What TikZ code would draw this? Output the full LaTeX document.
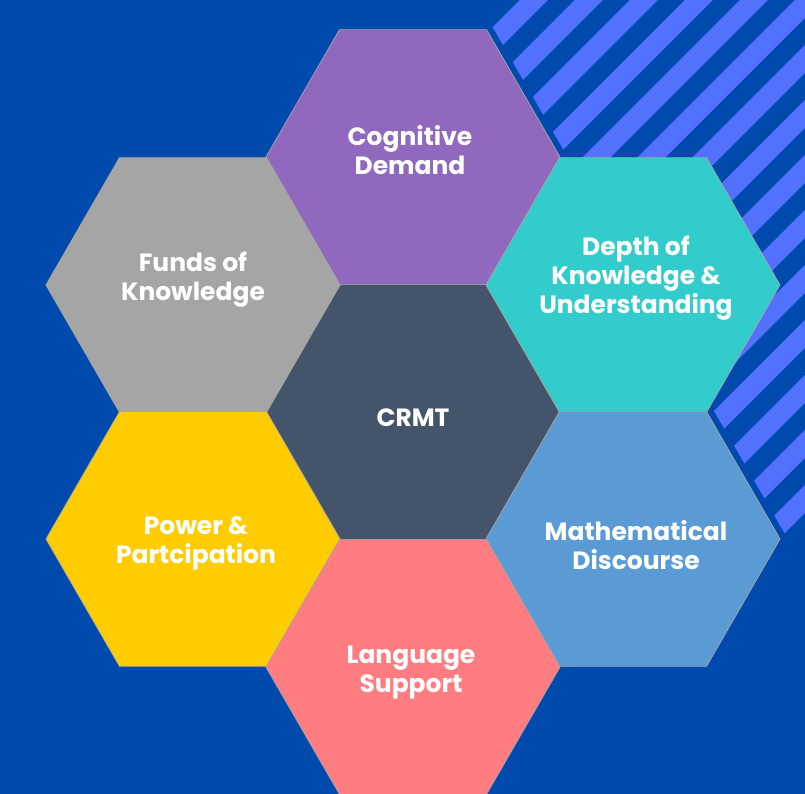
\documentclass[tikz,border=0pt]{standalone}
\usepackage{fontspec}
\setmainfont{Poppins}
\usetikzlibrary{shapes.geometric}
\definecolor{bgblue}{HTML}{004AAD}
\definecolor{stripeblue}{HTML}{5271FF}
\definecolor{cogpurple}{HTML}{9068BE}
\definecolor{fundgray}{HTML}{A5A5A5}
\definecolor{depthteal}{HTML}{33CCCC}
\definecolor{crmtslate}{HTML}{44546A}
\definecolor{poweryellow}{HTML}{FFCC00}
\definecolor{langpink}{HTML}{FF7C80}
\definecolor{mathblue}{HTML}{5B9BD5}
\begin{document}
\begin{tikzpicture}[x=0.01cm,y=-0.01cm,
  hexcell/.style={regular polygon,regular polygon sides=6,minimum size=2.94cm,
    inner sep=0pt,outer sep=0pt,draw=black!35,line width=.2pt},
  hextext/.style={text=white,align=center,inner sep=0pt,
    font=\bfseries\fontsize{7.1}{8.25}\selectfont}]
  \useasboundingbox (0,0) rectangle (805,794);
  \fill[bgblue] (0,0) rectangle (805,794);

  % striped corner
  \begin{scope}
    \clip (477,0) -- (805,0) -- (805,530) -- (789,541) -- cycle;
    \foreach \c in {520,575,...,1400}
      \fill[stripeblue] (\c,0) -- (\c+28,0) -- (\c-572,600) -- (\c-600,600) -- cycle;
  \end{scope}

  \node (crmt) at (413,412) [hexcell,fill=crmtslate] {};
  \node (cog) at (413,157) [hexcell,fill=cogpurple] {};
  \node (funds) at (193,285) [hexcell,fill=fundgray] {};
  \node (depth) at (633,285) [hexcell,fill=depthteal] {};
  \node (power) at (193,539) [hexcell,fill=poweryellow] {};
  \node (math) at (633,539) [hexcell,fill=mathblue] {};
  \node (lang) at (413,667) [hexcell,fill=langpink] {};

  \node (cogtext) at (410,150) [hextext] {Cognitive\\Demand};
  \node (fundstext) at (193,280) [hextext] {Funds of\\Knowledge};
  \node (depthtext) at (636,278) [hextext] {Depth of\\Knowledge \&\\Understanding};
  \node (crmttext) at (413,418) [hextext] {CRMT};
  \node (powertext) at (196,543) [hextext] {Power \&\\Partcipation};
  \node (mathtext) at (636,545) [hextext] {Mathematical\\Discourse};
  \node (langtext) at (411,673) [hextext] {Language\\Support};
\end{tikzpicture}
\end{document}
